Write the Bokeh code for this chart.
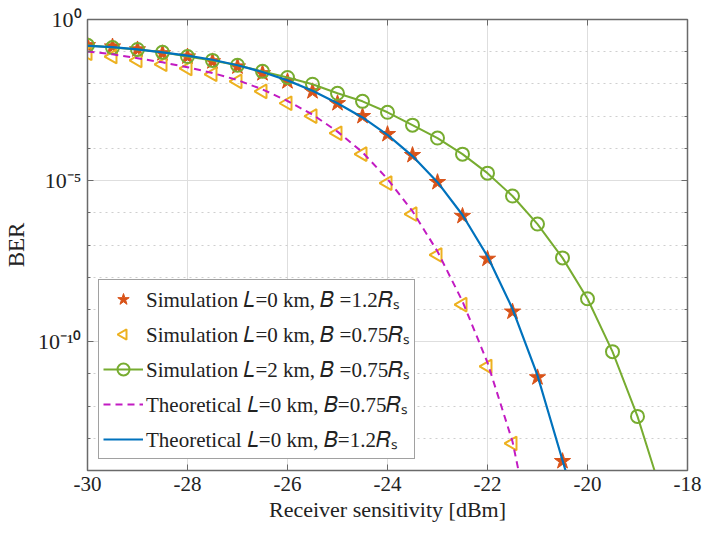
import math
from bokeh.plotting import figure
from bokeh.models import (Range1d, FixedTicker, LogAxis, LinearAxis, Legend,
                          LegendItem, CustomJSTickFormatter)
from bokeh.embed import file_html
from bokeh.resources import INLINE

# ---------------- data ----------------
x_sim1 = [-30, -29.5, -29, -28.5, -28, -27.5, -27, -26.5, -26, -25.5, -25,
          -24.5, -24, -23.5, -23, -22.5, -22, -21.5, -21, -20.5]
exp_sim1 = [-0.80, -0.84, -0.93, -1.05, -1.15, -1.30, -1.46, -1.67, -1.92, -2.23,
            -2.60, -3.00, -3.56, -4.21, -5.05, -6.10, -7.43, -9.07, -11.11, -13.71]

x_sim2 = [-30, -29.5, -29, -28.5, -28, -27.5, -27, -26.5, -26, -25.5, -25,
          -24.5, -24, -23.5, -23, -22.5, -22, -21.5]
exp_sim2 = [-1.05, -1.15, -1.27, -1.39, -1.52, -1.70, -1.92, -2.23, -2.60, -3.00,
            -3.53, -4.18, -5.08, -6.04, -7.31, -8.85, -10.77, -13.16]

x_sim3 = [-30, -29.5, -29, -28.5, -28, -27.5, -27, -26.5, -26, -25.5, -25,
          -24.5, -24, -23.5, -23, -22.5, -22, -21.5, -21, -20.5, -20, -19.5, -19]
exp_sim3 = [-0.80, -0.87, -0.93, -1.02, -1.15, -1.27, -1.42, -1.61, -1.80, -2.01,
            -2.29, -2.54, -2.88, -3.28, -3.68, -4.18, -4.77, -5.48, -6.35, -7.40,
            -8.67, -10.31, -12.32]
x_line3 = x_sim3 + [-18.66]
exp_line3 = exp_sim3 + [-14.0]

x_th075 = [-30, -29.5, -29, -28.5, -28, -27.5, -27, -26.5, -26, -25.5, -25,
           -24.5, -24, -23.5, -23, -22.5, -22, -21.5, -21.38]
exp_th075 = [-0.99, -1.08, -1.20, -1.33, -1.48, -1.66, -1.88, -2.17, -2.53, -2.95,
             -3.48, -4.12, -4.95, -5.95, -7.20, -8.75, -10.65, -13.10, -14.0]

x_th12 = [-30, -29.5, -29, -28.5, -28, -27.5, -27, -26.5, -26, -25.5, -25,
          -24.5, -24, -23.5, -23, -22.5, -22, -21.5, -21, -20.5, -20.44]
exp_th12 = [-0.82, -0.86, -0.93, -1.02, -1.12, -1.25, -1.42, -1.63, -1.89, -2.21,
            -2.60, -3.04, -3.58, -4.24, -5.05, -6.07, -7.35, -8.98, -11.05, -13.68,
            -14.0]

labels = ["Simulation 𝐿=0 km, 𝐵 =1.2𝑅ₛ",
          "Simulation 𝐿=0 km, 𝐵 =0.75𝑅ₛ",
          "Simulation 𝐿=2 km, 𝐵 =0.75𝑅ₛ",
          "Theoretical 𝐿=0 km, 𝐵=0.75𝑅ₛ",
          "Theoretical 𝐿=0 km, 𝐵=1.2𝑅ₛ"]

x_ticks = [-30, -28, -26, -24, -22, -20, -18]
y_major_exp = [0, -5, -10]
y_minor_exp = list(range(0, -15, -1))


def ber(e):
    return [10.0 ** v for v in e]


FONT = "Liberation Serif"
AX = "#6a6a6a"

p = figure(width=705, height=540, x_range=Range1d(-30, -18),
           y_range=Range1d(1e-14, 1), y_axis_type="log",
           output_backend="svg", toolbar_location=None,
           min_border_left=86, min_border_right=18, min_border_top=19,
           min_border_bottom=70)
p.background_fill_color = "white"
p.outline_line_color = AX
p.outline_line_width = 1.5

xt = FixedTicker(ticks=x_ticks, minor_ticks=[])
yt = FixedTicker(ticks=[10.0 ** e for e in y_major_exp],
                 minor_ticks=[10.0 ** e for e in y_minor_exp])

sup_js = """
const e = Math.round(Math.log10(tick));
const m = {'-':'\u207b','0':'\u2070','1':'\u00b9','2':'\u00b2','3':'\u00b3','4':'\u2074','5':'\u2075','6':'\u2076','7':'\u2077','8':'\u2078','9':'\u2079'};
return '10' + String(e).split('').map(c => m[c]).join('');
"""

xa = p.xaxis[0]
xa.ticker = xt
xa.formatter = CustomJSTickFormatter(code="return String(tick);")
ya = p.yaxis[0]
ya.ticker = yt
ya.formatter = CustomJSTickFormatter(code=sup_js)

for ax in (xa, ya):
    ax.major_label_text_font = FONT
    ax.major_label_text_color = "#222222"
    ax.axis_label_text_font = FONT
    ax.axis_label_text_font_style = "normal"
    ax.axis_label_text_color = "#222222"
    ax.axis_line_color = AX
    ax.major_tick_line_color = AX
    ax.minor_tick_line_color = AX
    ax.major_tick_in = 6
    ax.major_tick_out = 0
    ax.minor_tick_in = 3
    ax.minor_tick_out = 0
    ax.major_label_standoff = 6

xa.major_label_text_font_size = "21px"
xa.axis_label = "Receiver sensitivity [dBm]"
xa.axis_label_text_font_size = "22px"
xa.axis_label_standoff = 3
ya.axis_label = "BER"
ya.axis_label_text_font_size = "23px"
ya.axis_label_standoff = 6
ya.major_label_text_font_size = "22px"

empty = CustomJSTickFormatter(code="return '';")
ra = LogAxis(ticker=yt, formatter=empty, axis_line_color=AX,
             major_tick_line_color=AX, minor_tick_line_color=AX,
             major_tick_in=6, major_tick_out=0, minor_tick_in=3, minor_tick_out=0,
             major_label_standoff=0)
ta = LinearAxis(ticker=xt, formatter=empty, axis_line_color=AX,
                major_tick_line_color=AX, major_tick_in=6, major_tick_out=0,
                minor_tick_in=0, minor_tick_out=0, major_label_standoff=0)
p.add_layout(ra, "right")
p.add_layout(ta, "above")

p.xgrid.ticker = xt
p.xgrid.grid_line_color = "#dedede"
p.xgrid.grid_line_width = 1
p.ygrid.ticker = yt
p.ygrid.grid_line_color = "#dedede"
p.ygrid.minor_grid_line_color = "#cfcfcf"
p.ygrid.minor_grid_line_dash = "dotted"

C_STAR = "#D95319"
C_TRI = "#EDB120"
C_GRN = "#77AC30"
C_MAG = "#C21BC2"
C_BLU = "#0072BD"

r1 = p.scatter(x_sim1, ber(exp_sim1), marker="star", size=17,
               fill_color=C_STAR, line_color=C_STAR, line_width=1)
r2 = p.ngon(x_sim2, ber(exp_sim2), radius=8, radius_units="screen", n=3,
            angle=math.pi / 2, fill_color=None, line_color=C_TRI, line_width=2)
r3l = p.line(x_line3, ber(exp_line3), line_color=C_GRN, line_width=2)
r3m = p.scatter(x_sim3, ber(exp_sim3), marker="circle", size=13,
                fill_color=None, line_color=C_GRN, line_width=2)
r4 = p.line(x_th075, ber(exp_th075), line_color=C_MAG, line_width=2,
            line_dash="7 5")
r5 = p.line(x_th12, ber(exp_th12), line_color=C_BLU, line_width=2.2)

legend = Legend(items=[
    LegendItem(label=labels[0], renderers=[r1]),
    LegendItem(label=labels[1], renderers=[r2]),
    LegendItem(label=labels[2], renderers=[r3l, r3m]),
    LegendItem(label=labels[3], renderers=[r4]),
    LegendItem(label=labels[4], renderers=[r5]),
], location=(11, 11))
legend.margin = 0
legend.padding = 4
legend.spacing = 5
legend.glyph_width = 40
legend.glyph_height = 30
legend.label_height = 30
legend.label_standoff = 3
legend.label_text_font = FONT
legend.label_text_font_size = "21px"
legend.label_text_color = "#222222"
legend.border_line_color = "#444444"
legend.border_line_width = 1
legend.background_fill_color = "white"
legend.background_fill_alpha = 1
p.add_layout(legend)

open("out.html", "w").write(file_html(p, INLINE))
